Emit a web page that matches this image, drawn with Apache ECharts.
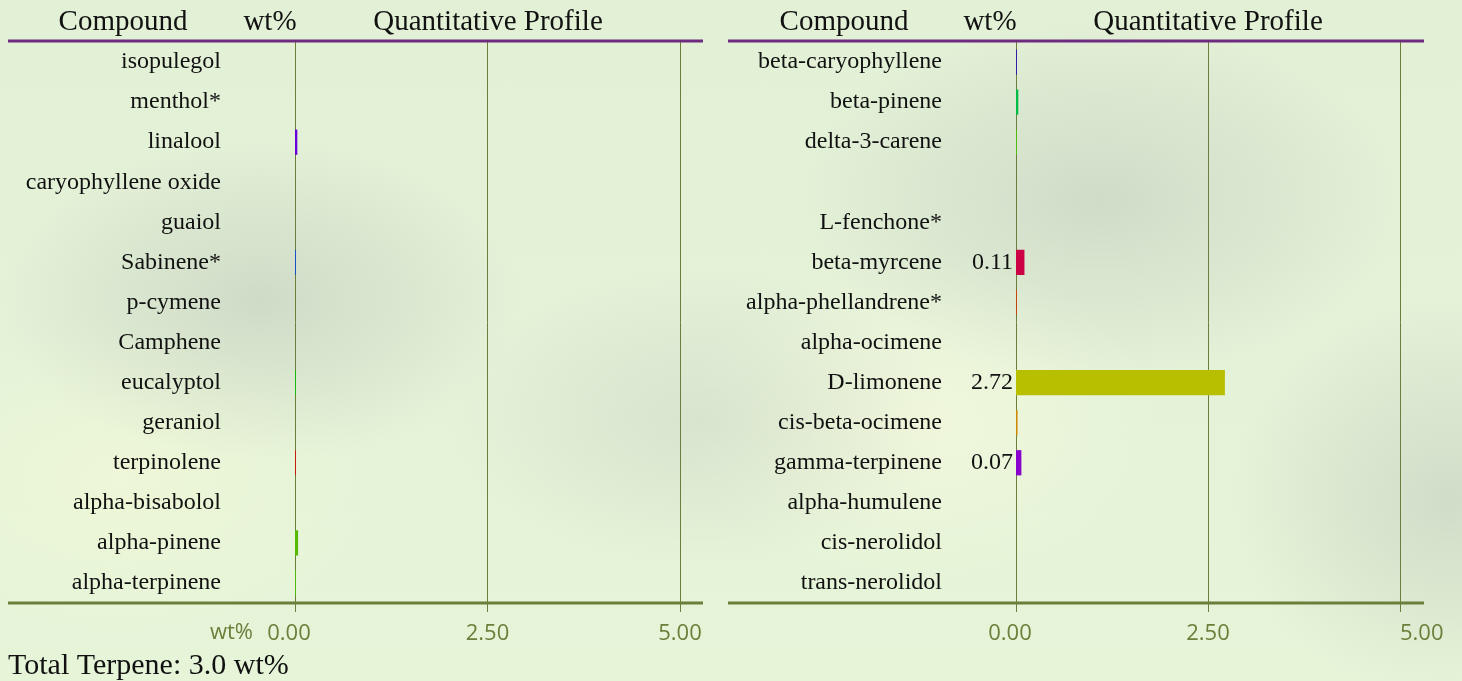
<!DOCTYPE html>
<html>
<head>
<meta charset="utf-8">
<script src="https://cdn.jsdelivr.net/npm/echarts@6/dist/echarts.min.js"></script>
<style>
html,body{margin:0;padding:0;width:1462px;height:681px;overflow:hidden;}
body{
  background:
    radial-gradient(ellipse 260px 160px at 260px 300px, rgba(190,200,185,0.55), rgba(190,200,185,0) 100%),
    radial-gradient(ellipse 300px 180px at 1100px 200px, rgba(195,205,190,0.6), rgba(195,205,190,0) 100%),
    radial-gradient(ellipse 250px 150px at 700px 420px, rgba(200,210,195,0.45), rgba(200,210,195,0) 100%),
    radial-gradient(ellipse 220px 200px at 1450px 500px, rgba(195,205,190,0.6), rgba(195,205,190,0) 100%),
    radial-gradient(ellipse 260px 160px at 120px 480px, rgba(240,248,215,0.8), rgba(240,248,215,0) 100%),
    radial-gradient(ellipse 240px 160px at 920px 420px, rgba(242,248,220,0.9), rgba(242,248,220,0) 100%),
    linear-gradient(180deg, #e2f0d6 0%, #e4f2d8 50%, #e6f5d8 100%);
}
#c{width:1462px;height:681px;}
</style>
</head>
<body>
<div id="c"></div>
<script>
// ---- data ----
const leftCompounds = ['isopulegol','menthol*','linalool','caryophyllene oxide','guaiol','Sabinene*','p-cymene','Camphene','eucalyptol','geraniol','terpinolene','alpha-bisabolol','alpha-pinene','alpha-terpinene'];
const leftValues = [0, 0, 0.03, 0, 0, 0.01, 0, 0, 0.01, 0, 0.01, 0, 0.04, 0.01];
const leftColors = ['#888888','#888888','#6600dd','#888888','#888888','#0044ee','#888888','#888888','#00cc00','#888888','#dd0000','#888888','#55bb00','#44cc00'];

const rightCompounds = ['beta-caryophyllene','beta-pinene','delta-3-carene','','L-fenchone*','beta-myrcene','alpha-phellandrene*','alpha-ocimene','D-limonene','cis-beta-ocimene','gamma-terpinene','alpha-humulene','cis-nerolidol','trans-nerolidol'];
const rightValues = [0.01, 0.03, 0.01, 0, 0, 0.11, 0.01, 0, 2.72, 0.02, 0.07, 0, 0, 0];
const rightColors = ['#2200cc','#00bb44','#44cc00','#888888','#888888','#cc0044','#dd3300','#888888','#b8bf00','#cc8800','#8800cc','#888888','#888888','#888888'];

const xTicks = [0, 2.5, 5];
const totalText = 'Total Terpene: 3.0 wt%';
const headers = ['Compound','wt%','Quantitative Profile'];

// ---- chart ----
const chart = echarts.init(document.getElementById('c'), null, {renderer:'canvas'});
const OLIVE = '#6b7f3a';
const SERIF = '"Liberation Serif","Times New Roman",serif';
const SANS = '"Open Sans","Noto Sans",sans-serif';

function xAxisCfg(gi, maxLeft){
  return {
    type:'value', gridIndex:gi, min:xTicks[0], max:xTicks[xTicks.length-1], interval:xTicks[1]-xTicks[0],
    axisLine:{show:false},
    axisTick:{show:true, length:9, lineStyle:{color:OLIVE, width:1}},
    splitLine:{show:true, lineStyle:{color:OLIVE, width:1}},
    axisLabel:{color:OLIVE, fontFamily:SANS, fontSize:22, margin:20,
      alignMaxLabel: maxLeft ? 'left' : 'center',
      formatter:v=> v===0 ? '{z|'+v.toFixed(2)+'}' : v.toFixed(2),
      rich:{z:{color:OLIVE, fontFamily:SANS, fontSize:22, padding:[0,12,0,0]}}}
  };
}
function yAxisCfg(gi, cats){
  return {
    type:'category', gridIndex:gi, data:cats, inverse:true,
    axisLine:{show:false}, axisTick:{show:false}, splitLine:{show:false},
    axisLabel:{color:'#111', fontFamily:SERIF, fontSize:24, margin:74}
  };
}
function seriesCfg(i, vals, cols){
  return {
    type:'bar', xAxisIndex:i, yAxisIndex:i, barWidth:'63%',
    data: vals.map((v,k)=>({value:v, itemStyle:{color:cols[k]}})),
    label:{show:true, position:'left', distance:3, color:'#111', fontFamily:SERIF, fontSize:24,
      formatter:p=> p.value>=0.05 ? p.value.toFixed(2) : ''},
    animation:false
  };
}

const graphics = [];
function panel(x0, x1, hx){
  graphics.push({type:'line', shape:{x1:x0, y1:41, x2:x1, y2:41}, style:{stroke:'#6f2b80', lineWidth:3}, z:10});
  graphics.push({type:'line', shape:{x1:x0, y1:603, x2:x1, y2:603}, style:{stroke:OLIVE, lineWidth:3}, z:10});
  headers.forEach((h,k)=>{
    graphics.push({type:'text', x:hx[k], y:22, style:{text:h, fill:'#111', font:'29px '+SERIF, textAlign:'center', textVerticalAlign:'middle'}});
  });
}
panel(8, 703, [123, 270, 488]);
panel(728, 1424, [844, 990, 1208]);
graphics.push({type:'text', x:253, y:633, style:{text:'wt%', fill:OLIVE, font:'22px '+SANS, textAlign:'right', textVerticalAlign:'middle'}});
graphics.push({type:'text', x:8, y:666, style:{text:totalText, fill:'#111', font:'30px '+SERIF, textAlign:'left', textVerticalAlign:'middle'}});

chart.setOption({
  animation:false,
  backgroundColor:'transparent',
  grid:[
    {left:295, right:1462-680, top:42, bottom:78, containLabel:false},
    {left:1016, right:1462-1400, top:42, bottom:78, containLabel:false}
  ],
  xAxis:[xAxisCfg(0, false), xAxisCfg(1, true)],
  yAxis:[yAxisCfg(0, leftCompounds), yAxisCfg(1, rightCompounds)],
  series:[seriesCfg(0, leftValues, leftColors), seriesCfg(1, rightValues, rightColors)],
  graphic:graphics
});
</script>
</body>
</html>
